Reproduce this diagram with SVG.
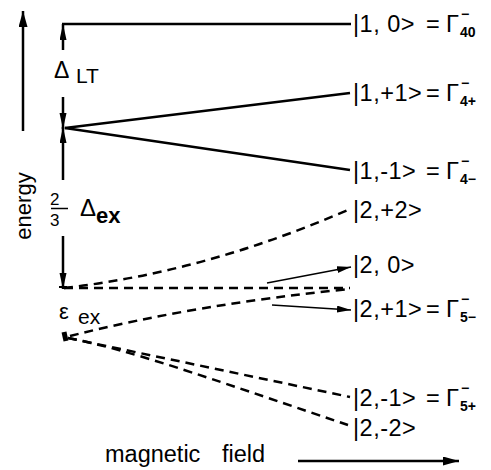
<svg xmlns="http://www.w3.org/2000/svg" width="491" height="470" viewBox="0 0 491 470">
<style>
text{font-family:"Liberation Sans",Arial,sans-serif;fill:#000}
.lbl{font-size:23.5px;letter-spacing:0.5px}
.sub{font-size:14px;font-weight:bold}
.sol{stroke:#000;stroke-width:2.5;fill:none}
.dash{stroke:#000;stroke-width:2.5;fill:none;stroke-dasharray:9 6}
.thin{stroke:#000;stroke-width:1.6;fill:none}
</style>
<defs>
<marker id="ah" markerUnits="userSpaceOnUse" markerWidth="18" markerHeight="8" refX="16" refY="3.5" orient="auto"><path d="M0,0 L16,3.5 L0,7 z" fill="#000"/></marker>
<marker id="ahE" markerUnits="userSpaceOnUse" markerWidth="18" markerHeight="10" refX="16" refY="4.5" orient="auto"><path d="M0,0 L16,4.5 L0,9 z" fill="#000"/></marker>
<marker id="ahT" markerUnits="userSpaceOnUse" markerWidth="16" markerHeight="8" refX="14" refY="3.5" orient="auto"><path d="M0,0 L14,3.5 L0,7 z" fill="#000"/></marker>
</defs>

<g id="axes">
<line x1="23" y1="131" x2="23" y2="11" class="sol" marker-end="url(#ahE)"/>
<text transform="translate(31,206) rotate(-90)" text-anchor="middle" font-size="22">energy</text>
<line x1="298" y1="461" x2="459" y2="461" class="sol" marker-end="url(#ahE)"/>
<text x="105" y="462" font-size="23.5">magnetic</text>
<text x="222" y="462" font-size="23.5">field</text>
</g>

<g id="brackets">
<line x1="63" y1="50" x2="63" y2="24" class="sol" marker-end="url(#ah)"/>
<text x="54" y="78" font-size="23">Δ</text>
<text x="76" y="83" font-size="21">LT</text>
<line x1="63" y1="97" x2="63" y2="129" class="sol" marker-end="url(#ah)"/>
<line x1="63" y1="180" x2="63" y2="127" class="sol" marker-end="url(#ah)"/>
<text x="50" y="205" font-size="17">2</text>
<line x1="51" y1="208.5" x2="68" y2="208.5" stroke="#000" stroke-width="1.5"/>
<text x="50" y="226" font-size="17">3</text>
<text x="80" y="216" font-size="24">Δ</text>
<text x="96" y="223" font-size="22" font-weight="bold">ex</text>
<line x1="63" y1="236" x2="63" y2="289" class="sol" marker-end="url(#ah)"/>
<line x1="59" y1="287" x2="67" y2="287" stroke="#000" stroke-width="2"/>
<text x="59" y="319" font-size="22">ε</text>
<text x="78" y="324" font-size="21">ex</text>
<line x1="64" y1="332" x2="66" y2="341" stroke="#000" stroke-width="5"/>
</g>

<g id="connectors">
<line x1="62" y1="24" x2="351" y2="24" class="sol"/>
<line x1="65" y1="128" x2="350" y2="93" class="sol"/>
<line x1="65" y1="128" x2="350" y2="170" class="sol"/>
<path d="M64,288 Q206,272 350,209" class="dash"/>
<path d="M64,288 L350,288" class="dash"/>
<path d="M70,336 Q197,304 350,289" class="dash"/>
<path d="M68,338 L350,397" class="dash"/>
<path d="M68,338 C130,350 200,375 348,425" class="dash"/>
<line x1="267" y1="283" x2="351" y2="267" class="thin" marker-end="url(#ahT)"/>
<line x1="272" y1="305" x2="351" y2="310" class="thin" marker-end="url(#ahT)"/>
</g>

<g id="n10">
<text class="lbl" x="353" y="32">|1, 0&gt;</text>
<text class="lbl" x="426" y="32">=</text>
<text class="lbl" x="446" y="32">Γ</text>
<text class="sub" x="461" y="19">−</text>
<text class="sub" x="460" y="37">40</text>
</g>
<g id="n1p1">
<text class="lbl" x="353" y="101">|1,+1&gt;</text>
<text class="lbl" x="426" y="101">=</text>
<text class="lbl" x="446" y="101">Γ</text>
<text class="sub" x="461" y="88">−</text>
<text class="sub" x="460" y="106">4+</text>
</g>
<g id="n1m1">
<text class="lbl" x="353" y="179">|1,-1&gt;</text>
<text class="lbl" x="426" y="179">=</text>
<text class="lbl" x="446" y="179">Γ</text>
<text class="sub" x="461" y="166">−</text>
<text class="sub" x="460" y="184">4−</text>
</g>
<g id="n2p2">
<text class="lbl" x="353" y="218">|2,+2&gt;</text>
</g>
<g id="n20">
<text class="lbl" x="353" y="273">|2, 0&gt;</text>
</g>
<g id="n2p1">
<text class="lbl" x="353" y="317">|2,+1&gt;</text>
<text class="lbl" x="426" y="317">=</text>
<text class="lbl" x="446" y="317">Γ</text>
<text class="sub" x="461" y="304">−</text>
<text class="sub" x="460" y="322">5−</text>
</g>
<g id="n2m1">
<text class="lbl" x="353" y="406">|2,-1&gt;</text>
<text class="lbl" x="426" y="406">=</text>
<text class="lbl" x="446" y="406">Γ</text>
<text class="sub" x="461" y="393">−</text>
<text class="sub" x="460" y="411">5+</text>
</g>
<g id="n2m2">
<text class="lbl" x="353" y="436">|2,-2&gt;</text>
</g>
</svg>
